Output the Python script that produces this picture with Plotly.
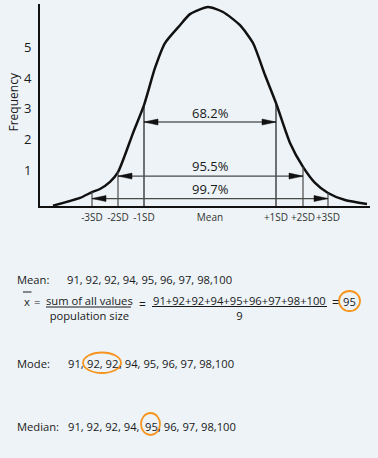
import plotly.graph_objects as go

# ---------------- data ----------------
# bell-curve outline (x in diagram units, mean at 0; y = frequency)
curve_x = [-157, -130, -118, -110, -100, -92, -85, -77, -66, -55, -45, -30, -20, -2,
           13, 30, 43, 55, 66, 80, 93, 105, 118, 135, 157]
curve_y = [-0.15, 0.10, 0.29, 0.39, 0.62, 0.94, 1.50, 2.21, 3.12, 4.33, 5.14, 5.72, 6.08, 6.31,
           6.15, 5.72, 5.14, 4.10, 3.19, 1.89, 1.11, 0.59, 0.26, 0.03, -0.10]

sd_labels = ["-3SD", "-2SD", "-1SD", "Mean", "+1SD", "+2SD", "+3SD"]
sd_pos = [-118, -92, -66, 0, 66, 93, 118]

freq_ticks = [1, 2, 3, 4, 5]

range_labels = ["68.2%", "95.5%", "99.7%"]
range_k = [1, 2, 3]              # number of SDs either side
arrow_y = [2.57, 0.81, 0.08]
label_y = [2.86, 1.14, 0.39]

values = [91, 92, 92, 94, 95, 96, 97, 98, 100]
mean_val = sum(values) // len(values)
mode_val = max(set(values), key=values.count)
median_idx = len(values) // 2
median_val = sorted(values)[median_idx]

# ---------------- style ----------------
BG = "#EDF3F7"
INK = "#1a1a1a"
GREY = "#4a4a4a"
ORANGE = "#F7941D"
FONT = "Open Sans"

W, H = 378, 458
ML, MR, MT, MB = 40, 8, 4, 252
PW, PH = W - ML - MR, H - MT - MB
XR = [-170, 160]
YR = [-0.163, 6.41]


def X(px):
    return (px - ML) / PW


def Y(py):
    return (H - MB - py) / PH


fig = go.Figure()

# curve
fig.add_trace(go.Scatter(x=curve_x, y=curve_y, mode="lines",
                         line=dict(color="#111", width=2.5, shape="spline", smoothing=0.6),
                         hoverinfo="skip"))

# vertical SD lines up to the curve
mid = sd_labels.index("Mean")
for i, p in enumerate(sd_pos):
    if i == mid:
        continue
    top = curve_y[curve_x.index(p)]
    col = INK if abs(i - mid) == 1 else GREY
    fig.add_trace(go.Scatter(x=[p, p], y=[YR[0], top], mode="lines",
                             line=dict(color=col, width=1.2), hoverinfo="skip"))

# double arrows
HEAD_L = 14
HEAD_H = 3.0 * (YR[1] - YR[0]) / PH
for lab, k, ay, ly in zip(range_labels, range_k, arrow_y, label_y):
    x0, x1 = sd_pos[mid - k], sd_pos[mid + k]
    col = INK if k == 1 else GREY
    fig.add_trace(go.Scatter(x=[x0, x1], y=[ay, ay], mode="lines",
                             line=dict(color=col, width=1.2), hoverinfo="skip"))
    tx = [x0, x0 + HEAD_L, x0 + HEAD_L, x0, None, x1, x1 - HEAD_L, x1 - HEAD_L, x1]
    ty = [ay, ay + HEAD_H, ay - HEAD_H, ay, None, ay, ay + HEAD_H, ay - HEAD_H, ay]
    fig.add_trace(go.Scatter(x=tx, y=ty, mode="lines", fill="toself", fillcolor="#111",
                             line=dict(color="#111", width=0.5), hoverinfo="skip"))
    fig.add_annotation(x=0, y=ly, xref="x", yref="y", text=lab, showarrow=False,
                       font=dict(family=FONT, size=13, color=INK),
                       xanchor="center", yanchor="middle")

# y-axis title
fig.add_annotation(x=X(12.5), y=Y(102), xref="paper", yref="paper", text="Frequency",
                   textangle=-90, showarrow=False,
                   font=dict(family=FONT, size=12, color=INK),
                   xanchor="center", yanchor="middle")

# ---------------- lower text block ----------------
TS = 11.2
list_txt = ", ".join(str(v) for v in values[:-1]) + "," + str(values[-1])
sum_txt = "+".join(str(v) for v in values)


def join_vals(vs):
    return ", ".join(str(v) for v in vs)


def txt(px, py, s, anchor="left", size=TS):
    fig.add_annotation(x=X(px), y=Y(py), xref="paper", yref="paper", text=s,
                       showarrow=False, font=dict(family=FONT, size=size, color=INK),
                       xanchor=anchor, yanchor="middle", borderpad=0)


def hline(x0, x1, py, w=1):
    fig.add_shape(type="line", xref="paper", yref="paper",
                  x0=X(x0), x1=X(x1), y0=Y(py), y1=Y(py),
                  line=dict(color=INK, width=w))


def ellipse(x0, x1, y0, y1):
    fig.add_shape(type="circle", xref="paper", yref="paper",
                  x0=X(x0), x1=X(x1), y0=Y(y1), y1=Y(y0),
                  line=dict(color=ORANGE, width=1.8))


# Mean
txt(16, 279, "Mean:")
txt(66, 279, list_txt)
txt(27, 301, "x", anchor="center")
hline(23, 31.5, 292)
txt(37, 301, "=", anchor="center")
txt(89, 307.5, "sum of all values<br>population size", anchor="center")
hline(46, 131, 307)
txt(142, 304, "=", anchor="center", size=12)
txt(239, 307.5, sum_txt + "<br>" + str(len(values)), anchor="center")
hline(152, 327, 306.5)
txt(335.5, 302, "=", anchor="center", size=12)
txt(349, 301, str(mean_val), anchor="center")
ellipse(339, 360, 291, 311)

# Mode: 91, (92, 92), 94, ...
first = values.index(mode_val)
last = len(values) - 1 - values[::-1].index(mode_val)
txt(16, 363, "Mode:")
txt(67, 363, join_vals(values[:first]) + ",")
txt(102, 363, join_vals(values[first:last + 1]), anchor="center")
txt(117.5, 363, ", " + join_vals(values[last + 1:-1]) + "," + str(values[-1]))
ellipse(83, 121, 352.5, 373)

# Median: 91, 92, 92, 94, (95,) 96, ...
txt(16, 426, "Median:")
txt(67, 426, join_vals(values[:median_idx]) + ",")
txt(151.5, 426, str(median_val), anchor="center")
txt(157, 426, ", " + join_vals(values[median_idx + 1:-1]) + "," + str(values[-1]))
ellipse(141, 160, 413, 435)

fig.update_layout(
    width=W, height=H,
    margin=dict(l=ML, r=MR, t=MT, b=MB, pad=0),
    paper_bgcolor=BG, plot_bgcolor=BG,
    showlegend=False,
    xaxis=dict(range=XR, showline=True, linewidth=2, linecolor="#111",
               showgrid=False, zeroline=False, ticks="", tickangle=0,
               tickvals=sd_pos, ticktext=sd_labels,
               tickfont=dict(family=FONT, size=10, color="#333"),
               ticklabelstandoff=1, fixedrange=True),
    yaxis=dict(range=YR, showline=True, linewidth=2, linecolor="#111",
               showgrid=False, zeroline=False, ticks="",
               tickvals=freq_ticks, ticktext=[str(t) for t in freq_ticks],
               tickfont=dict(family=FONT, size=13, color=INK),
               ticklabelstandoff=4, fixedrange=True),
)

fig.write_html("out.html", config={"displayModeBar": False},
               post_script="document.body.style.margin='0';document.body.style.background='" + BG + "';")
